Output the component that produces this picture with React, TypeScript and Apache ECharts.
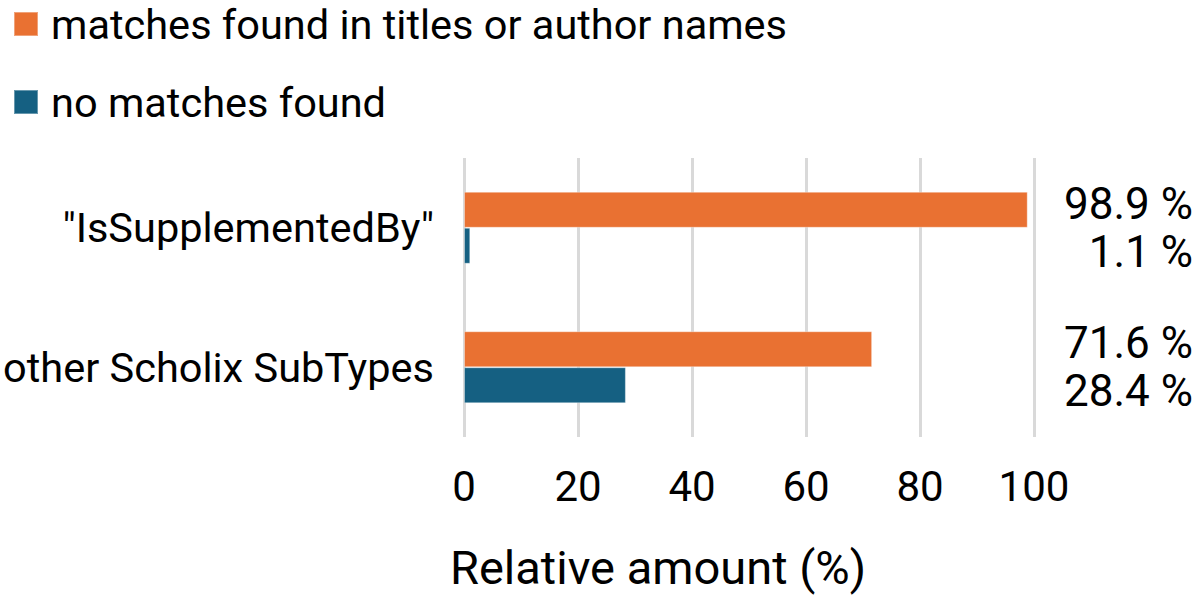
import React, { useEffect, useRef } from "react";
import * as echarts from "echarts";

const categories = ['"IsSupplementedBy"', "other Scholix SubTypes"];
const matchesFound = [98.9, 71.6];
const noMatches = [1.1, 28.4];
const seriesNames = ["matches found in titles or author names", "no matches found"];
const xTicks = { min: 0, max: 100, interval: 20 };
const axisTitle = "Relative amount (%)";

const FONT = "Roboto";

export default function App() {
  const ref = useRef<HTMLDivElement>(null);
  useEffect(() => {
    document.body.style.margin = "0";
    const chart = echarts.init(ref.current!, null, { renderer: "svg" });
    chart.setOption({
      animation: false,
      backgroundColor: "#ffffff",
      textStyle: { fontFamily: FONT, color: "#000" },
      legend: {
        orient: "vertical",
        left: 13,
        top: 2,
        padding: 0,
        itemWidth: 24,
        itemHeight: 24,
        itemGap: 34,
        icon: "rect",
        textStyle: { fontSize: 41.5, color: "#000", fontFamily: FONT, lineHeight: 44, padding: [0, 0, 0, 8] },
        data: seriesNames,
      },
      grid: { left: 464, right: 166, top: 158, bottom: 166, containLabel: false },
      xAxis: {
        type: "value",
        min: xTicks.min,
        max: xTicks.max,
        interval: xTicks.interval,
        axisLine: { show: false },
        axisTick: { show: false },
        splitLine: { show: true, lineStyle: { color: "#d9d9d9", width: 3 } },
        axisLabel: { fontSize: 42, color: "#000", margin: 28, fontFamily: FONT },
        name: axisTitle,
        nameLocation: "middle",
        nameGap: 107,
        nameTextStyle: { fontSize: 47, color: "#000", fontFamily: FONT, padding: [0, 182, 0, 0] },
      },
      yAxis: [
        {
          type: "category",
          data: categories,
          inverse: true,
          axisLine: { show: false },
          axisTick: { show: false },
          axisLabel: { fontSize: 41.5, color: "#000", margin: 30, fontFamily: FONT },
        },
        {
          type: "category",
          data: categories,
          inverse: true,
          position: "right",
          axisLine: { show: false },
          axisTick: { show: false },
          axisLabel: {
            fontSize: 44,
            color: "#000",
            fontFamily: FONT,
            align: "right",
            margin: 159,
            lineHeight: 48,
            formatter: (_v: string, i: number) => `${matchesFound[i]} %\n${noMatches[i]} %`,
          },
        },
      ],
      series: [
        {
          name: seriesNames[0],
          type: "bar",
          data: matchesFound,
          barWidth: 36,
          barGap: "0%",
          itemStyle: { color: "#E97132", borderColor: "rgba(255,255,255,0.35)", borderWidth: 1 },
        },
        {
          name: seriesNames[1],
          type: "bar",
          data: noMatches,
          barWidth: 36,
          barGap: "0%",
          itemStyle: { color: "#156082", borderColor: "rgba(255,255,255,0.35)", borderWidth: 1 },
        },
      ],
    });
    return () => chart.dispose();
  }, []);
  return <div ref={ref} style={{ width: 1200, height: 603 }} />;
}
